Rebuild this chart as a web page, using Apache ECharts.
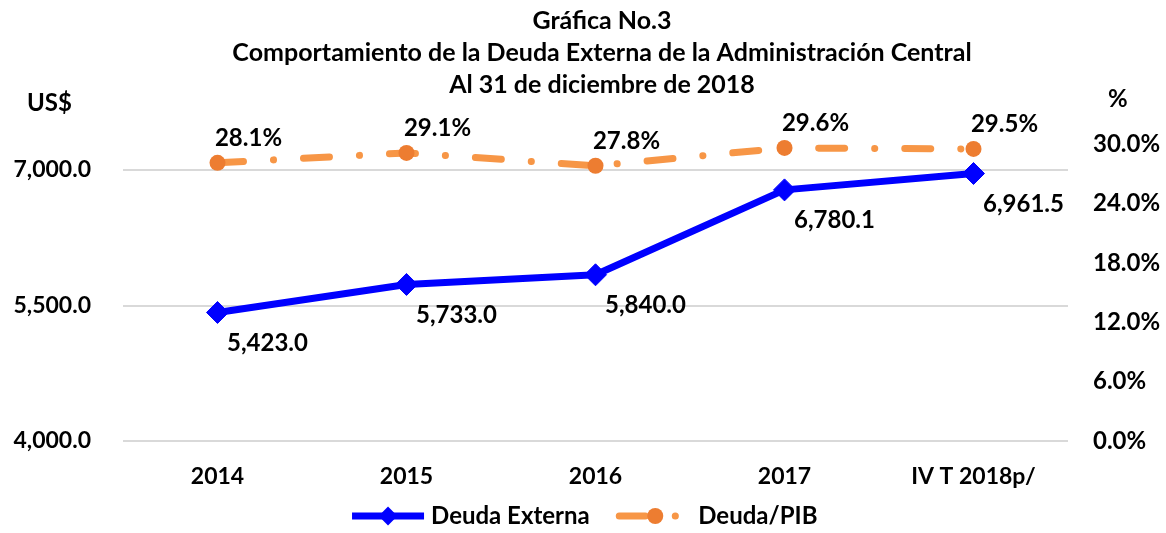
<!DOCTYPE html>
<html>
<head>
<meta charset="utf-8">
<script src="https://cdn.jsdelivr.net/npm/echarts@6/dist/echarts.min.js"></script>
<style>
  html, body { margin: 0; padding: 0; background: #fff; }
  #chart { width: 1166px; height: 533px; }
</style>
</head>
<body>
<div id="chart"></div>
<script>
// categorias del eje X
var categories = ['2014', '2015', '2016', '2017', 'IV T 2018p/'];
// Deuda Externa, millones de US$
var deudaExterna = [5423.0, 5733.0, 5840.0, 6780.1, 6961.5];
// Deuda / PIB en %
var deudaPib = [28.1, 29.1, 27.8, 29.6, 29.5];
var titleLines = [
    'Gráfica No.3',
    'Comportamiento de la Deuda Externa de la Administración Central',
    'Al 31 de diciembre de 2018'
];

var FONT = 'Lato, "Open Sans", sans-serif';

var myChart = echarts.init(document.getElementById('chart'));

function fmtNum(v) {
    return Number(v).toLocaleString('en-US', { minimumFractionDigits: 1, maximumFractionDigits: 1 });
}

myChart.setOption({
    animation: false,
    textStyle: { fontFamily: FONT },
    title: {
        text: titleLines.join('\n'),
        left: 597,
        textAlign: 'center',
        top: 0,
        textStyle: {
            fontFamily: FONT,
            fontSize: 25,
            fontWeight: 'bold',
            color: '#000',
            lineHeight: 32
        }
    },
    legend: {
        bottom: 0,
        left: 'center',
        itemWidth: 72,
        itemHeight: 20,
        itemGap: 26,
        lineStyle: { width: 7 },
        textStyle: { fontFamily: FONT, fontSize: 24, fontWeight: 'bold', color: '#000', padding: [0, 0, 0, 2] },
        data: ['Deuda Externa', 'Deuda/PIB']
    },
    graphic: [
        { type: 'text', left: 27, top: 91, style: { text: 'US$', fontFamily: FONT, fontSize: 24, fontWeight: 'bold', fill: '#000' } },
        { type: 'text', left: 1108, top: 87, style: { text: '%', fontFamily: FONT, fontSize: 24, fontWeight: 'bold', fill: '#000' } }
    ],
    grid: {
        left: 123,
        right: 98,
        top: 144,
        bottom: 92
    },
    xAxis: {
        type: 'category',
        data: categories,
        axisLine: { show: false },
        axisTick: { show: false },
        axisLabel: {
            margin: 24,
            fontFamily: FONT,
            fontSize: 23,
            fontWeight: 'bold',
            color: '#000'
        }
    },
    yAxis: [{
        type: 'value',
        min: 4000,
        max: 7288,
        interval: 1500,
        axisLine: { show: false },
        axisTick: { show: false },
        axisLabel: {
            margin: 32,
            showMaxLabel: false,
            fontFamily: FONT,
            fontSize: 23,
            fontWeight: 'bold',
            color: '#000',
            formatter: fmtNum
        },
        splitLine: {
            show: true,
            showMaxLine: false,
            lineStyle: { color: '#d9d9d9', width: 2 }
        }
    }, {
        type: 'value',
        min: 0,
        max: 30,
        interval: 6,
        axisLine: { show: false },
        axisTick: { show: false },
        splitLine: { show: false },
        axisLabel: {
            margin: 25,
            fontFamily: FONT,
            fontSize: 24,
            fontWeight: 'bold',
            color: '#000',
            formatter: function (v) { return v.toFixed(1) + '%'; }
        }
    }],
    series: [{
        name: 'Deuda Externa',
        type: 'line',
        yAxisIndex: 0,
        data: deudaExterna,
        symbol: 'diamond',
        symbolSize: 22,
        z: 3,
        lineStyle: { color: '#0000ff', width: 7 },
        itemStyle: { color: '#0000ff', borderColor: '#0000ff', borderWidth: 1 },
        label: {
            show: true,
            position: 'bottom',
            distance: 5,
            offset: [50, 2],
            fontFamily: FONT,
            fontSize: 24,
            fontWeight: 'bold',
            color: '#000',
            formatter: function (p) { return fmtNum(p.value); }
        }
    }, {
        name: 'Deuda/PIB',
        type: 'line',
        yAxisIndex: 1,
        data: deudaPib,
        symbol: 'circle',
        symbolSize: 16,
        z: 2,
        lineStyle: {
            color: '#f79646',
            width: 7,
            type: [26, 30, 0.1, 30],
            cap: 'round'
        },
        itemStyle: { color: '#ed7d31' },
        label: {
            show: true,
            position: 'top',
            distance: 5,
            offset: [31, 0],
            fontFamily: FONT,
            fontSize: 24,
            fontWeight: 'bold',
            color: '#000',
            formatter: function (p) { return p.value.toFixed(1) + '%'; }
        }
    }]
});
</script>
</body>
</html>
